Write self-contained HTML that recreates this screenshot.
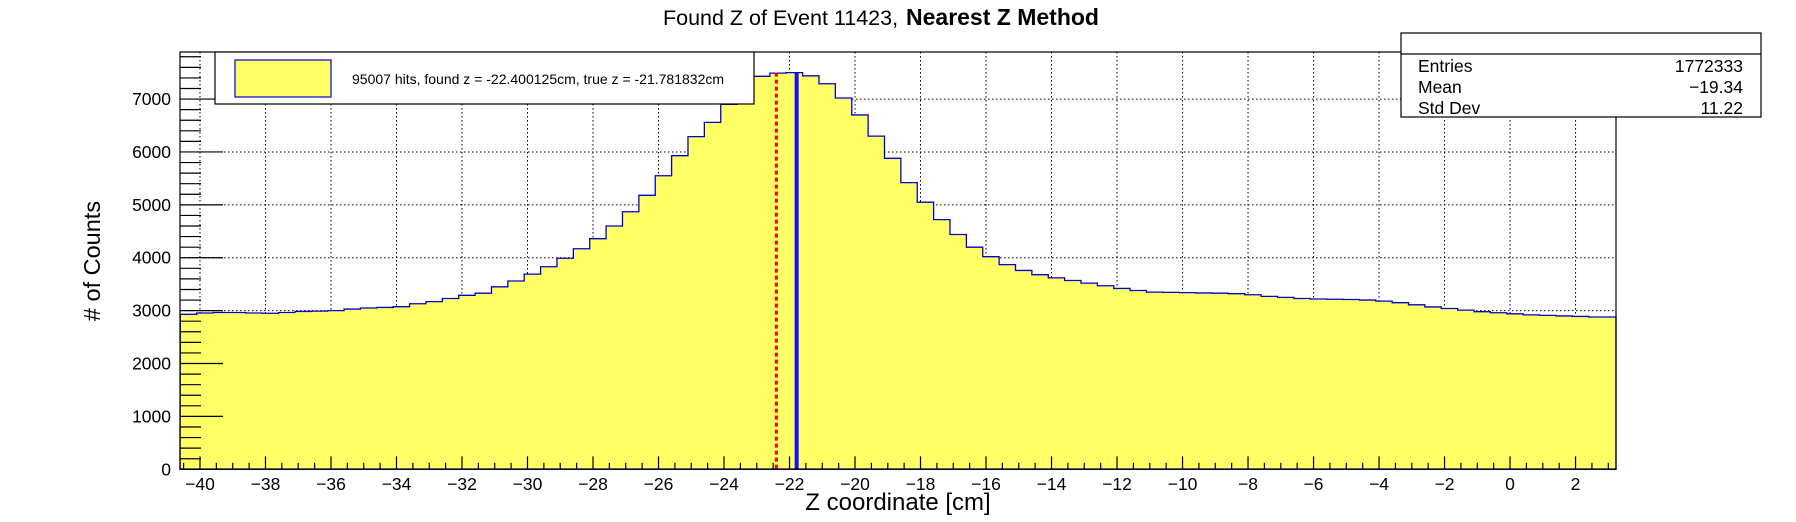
<!DOCTYPE html>
<html><head><meta charset="utf-8"><style>
html,body{margin:0;padding:0;background:#fff;}
svg{display:block;font-family:"Liberation Sans",Arial,sans-serif;}
</style></head><body>
<svg id="chart" width="1796" height="522" viewBox="0 0 1796 522">
<g id="grid"></g>
<g id="hist"></g>
<g id="marks"></g>
<rect x="180" y="52" width="1436" height="417" fill="none" stroke="#000" stroke-width="1.2"/>
<g id="ticks"></g>
<text x="663" y="25" font-size="21.5" fill="#000">Found Z of Event 11423,</text>
<text x="906" y="25" font-size="23" font-weight="bold" fill="#000">Nearest Z Method</text>
<text x="898" y="510" font-size="24" text-anchor="middle">Z coordinate [cm]</text>
<text transform="translate(100,261) rotate(-90)" font-size="23.5" text-anchor="middle"># of Counts</text>
<g>
<rect x="215" y="52" width="539" height="52" fill="#fff" stroke="#000" stroke-width="1.2"/>
<rect x="235" y="60" width="96" height="37" fill="#ffff66" stroke="#0000cc" stroke-width="1.2"/>
<text x="352" y="84" font-size="14">95007 hits, found z = -22.400125cm, true z = -21.781832cm</text>
</g>
<g>
<rect x="1401" y="33" width="360" height="84" fill="#fff" stroke="#000" stroke-width="1.2"/>
<line x1="1401" y1="54" x2="1761" y2="54" stroke="#000" stroke-width="1.2"/>
<text x="1418" y="72" font-size="17.5">Entries</text>
<text x="1743" y="72" font-size="17.5" text-anchor="end">1772333</text>
<text x="1418" y="93" font-size="17.5">Mean</text>
<text x="1743" y="93" font-size="17.5" text-anchor="end">−19.34</text>
<text x="1418" y="114" font-size="17.5">Std Dev</text>
<text x="1743" y="114" font-size="17.5" text-anchor="end">11.22</text>
</g>
</svg>
<script>
const binLow = -40.6;
const binWidth = 0.5;
const counts = [2930,2955,2965,2965,2955,2950,2965,2985,2990,3000,3030,3050,3060,3075,3130,3170,3230,3290,3330,3450,3560,3690,3830,3990,4170,4360,4600,4870,5180,5550,5930,6290,6560,6900,7250,7430,7490,7500,7440,7290,7020,6700,6300,5880,5420,5050,4720,4440,4200,4020,3870,3760,3680,3620,3570,3520,3470,3420,3380,3350,3345,3340,3335,3330,3320,3300,3270,3250,3230,3220,3215,3210,3200,3180,3150,3110,3070,3040,3010,2980,2960,2940,2920,2910,2900,2890,2880,2880];
const xTicks = [-40,-38,-36,-34,-32,-30,-28,-26,-24,-22,-20,-18,-16,-14,-12,-10,-8,-6,-4,-2,0,2];
const yTicks = [0,1000,2000,3000,4000,5000,6000,7000];
const foundZ = [-22.400125];
const trueZ = [-21.781832];
const xMin = -40.61, xMax = 3.235, yMaxAxis = 7890;

const NS = "http://www.w3.org/2000/svg";
const L = 180, R = 1616, T = 52, B = 469.3;
function X(v){ return L + (v - xMin) / (xMax - xMin) * (R - L); }
function Y(c){ return B - c / yMaxAxis * (B - T); }
function mk(tag, attrs, parent){ const e = document.createElementNS(NS, tag); for (const k in attrs) e.setAttribute(k, attrs[k]); parent.appendChild(e); return e; }

const grid = document.getElementById('grid');
xTicks.forEach(v => { const l = mk('line', {x1:X(v), x2:X(v), y1:T, y2:B, stroke:'#000', 'stroke-width':1, 'stroke-dasharray':'1.5,2.5'}, grid);

 });
yTicks.forEach(v => { const l = mk('line', {x1:L, x2:R, y1:Y(v), y2:Y(v), stroke:'#000', 'stroke-width':1, 'stroke-dasharray':'1.5,2.5'}, grid);

 });

const hist = document.getElementById('hist');
let d = 'M' + X(xMin) + ',' + B;
counts.forEach((c, i) => {
  const x0 = Math.max(xMin, binLow + i * binWidth), x1 = Math.min(xMax, binLow + (i + 1) * binWidth);
  if (x1 <= x0) return;
  d += ' L' + X(x0) + ',' + Y(c) + ' L' + X(x1) + ',' + Y(c);
});
d += ' L' + X(xMax) + ',' + B + ' Z';
const hp = mk('path', {d:d, fill:'#ffff66', stroke:'#0000cc', 'stroke-width':1.3}, hist);



const peak = Math.max(...counts);
const marks = document.getElementById('marks');
const rl = mk('line', {x1:X(foundZ[0]), x2:X(foundZ[0]), y1:Y(peak), y2:B, stroke:'#ff0000', 'stroke-width':3, 'stroke-dasharray':'4,3'}, marks);


const bl = mk('line', {x1:X(trueZ[0]), x2:X(trueZ[0]), y1:Y(peak), y2:B, stroke:'#1010ff', 'stroke-width':4}, marks);



const tk = document.getElementById('ticks');
for (let v = -40.5; v <= xMax + 1e-9; v += 0.5) {
  if (v < xMin) continue;
  const major = Math.abs(v / 2 - Math.round(v / 2)) < 1e-6;
  mk('line', {x1:X(v), x2:X(v), y1:B, y2:B - (major ? 13 : 6.5), stroke:'#000', 'stroke-width':1.2}, tk);
}
for (let v = 0; v <= yMaxAxis; v += 200) {
  const major = v % 1000 === 0;
  mk('line', {x1:L, x2:L + (major ? 43 : 21), y1:Y(v), y2:Y(v), stroke:'#000', 'stroke-width':1.2}, tk);
}
xTicks.forEach(v => { const t = mk('text', {x:X(v), y:490, 'font-size':17.5, 'text-anchor':'middle'}, tk);
t.textContent = (v < 0 ? '\u2212' + (-v) : String(v));

 });
yTicks.forEach(v => { const t = mk('text', {x:171, y:Y(v) + 6, 'font-size':17.5, 'text-anchor':'end'}, tk);
t.textContent = String(v);

 });
</script>
</body></html>
